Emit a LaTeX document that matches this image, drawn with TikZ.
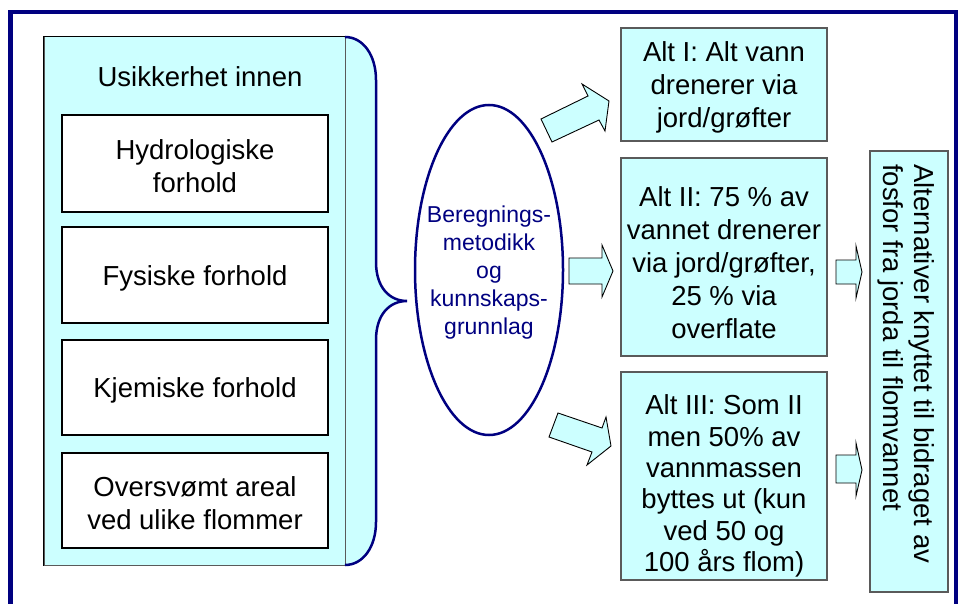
\documentclass[tikz,border=0pt]{standalone}
\usepackage{fontspec}
\setmainfont{Liberation Sans}
\usetikzlibrary{shapes.geometric}
\definecolor{navyc}{HTML}{000080}
\definecolor{cyanf}{HTML}{CCFFFF}
\definecolor{edgegray}{HTML}{5A5A5A}
\begin{document}
\begin{tikzpicture}[x=1pt,y=-1pt,
 big/.style={font=\fontsize{27.5}{33}\selectfont, align=center, inner sep=0pt},
 whitebox/.style={draw=black, line width=1.2pt, fill=white, minimum width=266pt, minimum height=96pt, inner sep=0pt},
 altbox/.style={draw=edgegray, line width=1.5pt, fill=cyanf, minimum width=206pt, inner sep=0pt},
 blockarrow/.style={draw=black, line width=0.9pt, fill=cyanf, line join=miter},
 framestyle/.style={draw=navyc, line width=4.5pt},
 bracestyle/.style={draw=navyc, line width=2.5pt}
]
\useasboundingbox (0,0) rectangle (963,604);
% frame
\draw[framestyle] (10.5,606) -- (10.5,12) -- (956,12) -- (956,606);

% left panel with brace
\fill[cyanf] (44,37) -- (345,37) .. controls (363,37) and (376,55) .. (376,80)
  -- (376,262) .. controls (376,288) and (390,301) .. (407,301)
  .. controls (390,301) and (376,314) .. (376,340)
  -- (376,522) .. controls (376,547) and (363,565) .. (345,565)
  -- (44,565) -- cycle;
\node[draw=edgegray, line width=1pt, minimum width=301pt, minimum height=528pt, inner sep=0pt] (panel) at (194.5,301) {};
\draw[black, line width=1pt] (panel.south west) -- (panel.north west) -- (panel.north east);
\draw[bracestyle] (345,37) .. controls (363,37) and (376,55) .. (376,80)
  -- (376,262) .. controls (376,288) and (390,301) .. (407,301)
  .. controls (390,301) and (376,314) .. (376,340)
  -- (376,522) .. controls (376,547) and (363,565) .. (345,565);

\node[big] (title) at (200,77) {Usikkerhet innen};
\node[whitebox, minimum height=97pt] (hyd) at (195,163.5) {};
\node[big] (hydT) at ([yshift=-2.5pt]hyd.center) {Hydrologiske\\forhold};
\node[whitebox] (fys) at (195,275) {};
\node[big] (fysT) at ([yshift=-3.5pt]fys.center) {Fysiske forhold};
\node[whitebox, minimum height=95pt] (kje) at (195,387.5) {};
\node[big] (kjeT) at ([yshift=-3pt]kje.center) {Kjemiske forhold};
\node[whitebox, minimum height=95pt] (ove) at (195,500.5) {};
\node[big] (oveT) at ([yshift=-3pt]ove.center) {Oversvømt areal\\ved ulike flommer};

% ellipse
\node[ellipse, draw=navyc, line width=2.5pt, minimum width=148pt, minimum height=330pt, inner sep=0pt] (metod) at (489,270) {};
\node[text=navyc, align=center, inner sep=0pt, font=\fontsize{23}{28}\selectfont] (metodT) at ([yshift=-3pt]metod.center)
  {Beregnings-\\metodikk\\og\\kunnskaps-\\grunnlag};

% alternative boxes
\node[altbox, minimum height=113pt] (alt1) at (724,84.5) {};
\node[big] (alt1T) at ([yshift=-2.5pt]alt1.center) {Alt I: Alt vann\\drenerer via\\jord/grøfter};
\node[altbox, minimum height=198pt] (alt2) at (724,257) {};
\node[big] (alt2T) at ([yshift=-5.5pt]alt2.center) {Alt II: 75 \% av\\vannet drenerer\\via jord/grøfter,\\25 \% via\\overflate};
\node[altbox, minimum height=208pt] (alt3) at (724,476) {};
\node[big, font=\fontsize{27.5}{31.4}\selectfont] (alt3T) at ([yshift=-10pt]alt3.center) {Alt III: Som II\\men 50\% av\\vannmassen\\byttes ut (kun\\ved 50 og\\100 års flom)};

% right vertical box
\node[draw=edgegray, line width=1.5pt, fill=cyanf, minimum width=78pt, minimum height=441pt, inner sep=0pt] (res) at (909,371.5) {};
\node[font=\fontsize{27.5}{31.5}\selectfont, inner sep=0pt, rotate=-90, anchor=west, align=left] (restext) at (906,164) {Alternativer knyttet til bidraget av\\fosfor fra jorda til flomvannet};

% block arrows
\draw[blockarrow] (541,119) -- (588,96) -- (582,84) -- (609,101) -- (605,131) -- (599,120) -- (552,142) -- cycle;
\draw[blockarrow] (569,258) -- (602,258) -- (602,245) -- (613,271) -- (602,297) -- (602,284) -- (569,284) -- cycle;
\draw[blockarrow] (558,413) -- (602,428) -- (606,417) -- (611,446) -- (587,465) -- (592,452) -- (549,437) -- cycle;
\draw[blockarrow] (836,260) -- (856,260) -- (856,246) -- (862,272) -- (856,298) -- (856,284) -- (836,284) -- cycle;
\draw[blockarrow] (836,455) -- (856,455) -- (856,443) -- (862,470) -- (856,496) -- (856,483) -- (836,483) -- cycle;
\end{tikzpicture}
\end{document}
